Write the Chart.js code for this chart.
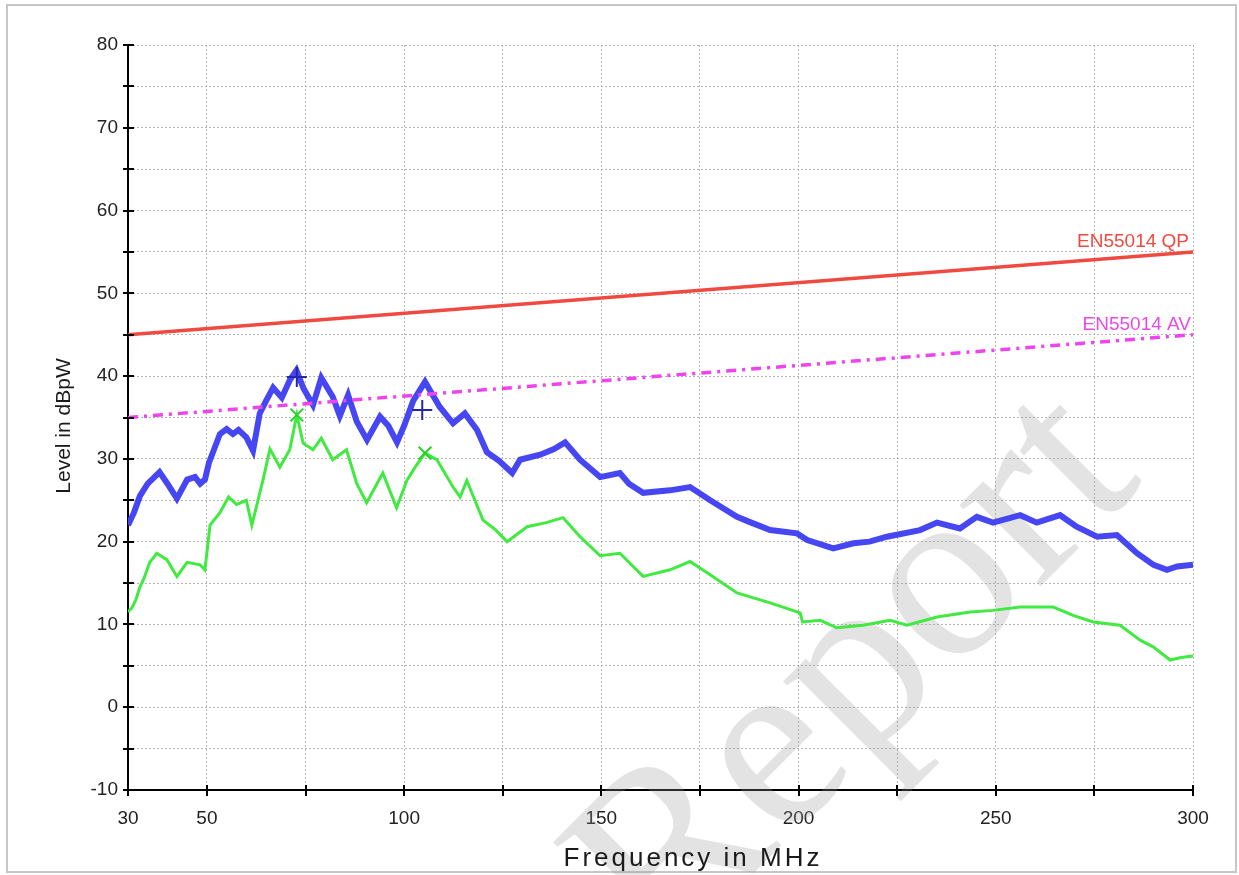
<!DOCTYPE html>
<html>
<head>
<meta charset="utf-8">
<script src="https://cdn.jsdelivr.net/npm/chart.js@4.4.1/dist/chart.umd.min.js"></script>
<style>
  html, body { margin: 0; padding: 0; background: #fff; }
  canvas { display: block; }
</style>
</head>
<body>
<canvas id="emiChart" width="1239" height="875"></canvas>
<script>
// axis ticks
const xTickValues = [30, 50, 75, 100, 125, 150, 175, 200, 225, 250, 275, 300];
const xLabelValues = [30, 50, 100, 150, 200, 250, 300];
const yMin = -10;
const yMax = 80;

// peak trace (blue), MHz / dBpW
const peakFreq = [30, 31.5, 33, 35, 38, 40, 42.4, 45, 47, 48.3, 49.5, 50.5, 53.3, 55, 56.6, 58, 60, 61.7, 63.4, 65,
  66.8, 69, 71, 72.7, 74.5, 76.9, 79, 81.9, 83.7, 85.8, 88, 90.6, 93.9, 96, 98.2, 100, 102.3, 105.3, 109, 112.4,
  115.4, 118.5, 121, 124, 127.4, 129.4, 134.5, 138, 140.8, 144.6, 149.7, 154.7, 157, 160.6, 167.4, 172.5, 177.6, 184.4, 188, 192.8,
  199.6, 202.2, 208.8, 213.9, 218, 222.4, 230.8, 235.1, 240.9, 245.2, 249.3, 256.2, 260.4, 266.3, 270.5, 275.7, 280.7, 285.8, 290, 293.4,
  296, 300];
const peakLevel = [22.0, 23.5, 25.5, 27.0, 28.4, 27.0, 25.2, 27.5, 27.8, 27.0, 27.5, 29.5, 33.0, 33.6, 33.0, 33.5, 32.6, 31.0, 35.5, 37.0,
  38.6, 37.4, 39.5, 40.7, 38.5, 36.5, 39.8, 37.5, 35.2, 37.7, 34.5, 32.3, 35.1, 34.0, 32.0, 34.0, 37.0, 39.3, 36.3, 34.3,
  35.5, 33.5, 30.8, 29.8, 28.3, 29.9, 30.5, 31.2, 32.0, 29.9, 27.8, 28.3, 27.0, 25.9, 26.2, 26.6, 25.0, 23.0, 22.3, 21.4,
  21.0, 20.2, 19.2, 19.8, 20.0, 20.6, 21.4, 22.3, 21.6, 23.0, 22.3, 23.2, 22.3, 23.2, 21.8, 20.6, 20.8, 18.6, 17.2, 16.6,
  17.0, 17.2];

// average trace (green)
const avgFreq = [30, 31, 32, 33, 34, 35.5, 37.3, 39.9, 42.4, 45, 48.3, 49.5, 50.8, 53.3, 55.5, 57.5, 60, 61.4, 64.2, 66,
  68.5, 71, 72.8, 74.4, 76.9, 79, 81.9, 85.4, 88, 90.5, 94.6, 98.1, 100.7, 102.8, 105.3, 108.3, 112.4, 114.2, 115.9, 120,
  123, 126.1, 131.2, 136, 140.3, 144.6, 149.7, 154.7, 160.6, 167.4, 172.5, 177.6, 184.4, 192.8, 200.4, 201, 205.5, 209.7, 216.4, 223.2,
  227.5, 235.1, 243.5, 249.3, 256.2, 264.6, 269.6, 274.7, 281.5, 286.6, 289.9, 294.2, 297, 300];
const avgLevel = [11.5, 12.0, 13.0, 14.5, 15.5, 17.5, 18.6, 17.8, 15.8, 17.5, 17.2, 16.6, 22.0, 23.5, 25.4, 24.5, 25.0, 22.0, 27.4, 31.2,
  29.0, 31.1, 35.3, 31.9, 31.1, 32.5, 29.9, 31.1, 27.0, 24.7, 28.3, 24.1, 27.4, 29.0, 30.7, 29.9, 26.6, 25.4, 27.4, 22.6,
  21.5, 20.0, 21.8, 22.3, 22.9, 20.6, 18.3, 18.6, 15.8, 16.6, 17.6, 16.0, 13.8, 12.6, 11.4, 10.3, 10.5, 9.6, 9.9, 10.5,
  9.9, 10.9, 11.5, 11.7, 12.1, 12.1, 11.1, 10.3, 9.9, 8.1, 7.3, 5.7, 6.0, 6.2];

// limit lines
const limitFreq = [30, 300];
const limitQP = [45, 55];
const limitAV = [35, 45];
const limitNames = ['EN55014 QP', 'EN55014 AV'];

// final measurement markers
const peakMarkFreq = [72.8, 104.6];
const peakMarkLevel = [39.9, 35.9];
const avgMarkFreq = [72.8, 105.3];
const avgMarkLevel = [35.3, 30.7];

const toPoints = (xs, ys) => xs.map((x, i) => ({ x: x, y: ys[i] }));

const FONT = '"Liberation Sans", Arial, sans-serif';

const decorPlugin = {
  id: 'decor',
  beforeDraw(chart) {
    const ctx = chart.ctx;
    ctx.save();
    ctx.fillStyle = '#fff';
    ctx.fillRect(0, 0, chart.width, chart.height);
    ctx.strokeStyle = '#c6c6c6';
    ctx.lineWidth = 2;
    ctx.strokeRect(7, 5, 1229, 867);
    ctx.restore();
  },
  beforeDatasetsDraw(chart) {
    // watermark
    const ctx = chart.ctx;
    ctx.save();
    ctx.translate(858, 676);
    ctx.rotate(-45 * Math.PI / 180);
    ctx.font = '250px "Liberation Serif", "DejaVu Serif", serif';
    ctx.fillStyle = 'rgba(150,150,150,0.27)';
    ctx.textAlign = 'center';
    ctx.textBaseline = 'middle';
    ctx.fillText('Report', 0, 0);
    ctx.restore();
  },
  afterDraw(chart) {
    const ctx = chart.ctx;
    const xs = chart.scales.x;
    const ys = chart.scales.y;
    const ca = chart.chartArea;
    ctx.save();
    // tick marks crossing the axes
    ctx.strokeStyle = '#000';
    ctx.lineWidth = 2;
    ctx.beginPath();
    for (let v = yMin; v <= yMax; v += 5) {
      const y = Math.round(ys.getPixelForValue(v));
      ctx.moveTo(ca.left - 5, y);
      ctx.lineTo(ca.left + 6, y);
    }
    xTickValues.forEach(v => {
      const x = Math.round(xs.getPixelForValue(v));
      ctx.moveTo(x, ca.bottom - 5);
      ctx.lineTo(x, ca.bottom + 6);
    });
    ctx.stroke();

    // limit labels
    ctx.font = '19px ' + FONT;
    ctx.textAlign = 'right';
    ctx.textBaseline = 'alphabetic';
    ctx.fillStyle = '#f04a40';
    ctx.fillText(limitNames[0], ca.right - 4, ys.getPixelForValue(limitQP[1]) - 5);
    ctx.fillStyle = '#e84ae8';
    ctx.fillText(limitNames[1], ca.right - 2, ys.getPixelForValue(limitAV[1]) - 5);

    // axis titles
    ctx.fillStyle = '#1a1a1a';
    ctx.font = '21px ' + FONT;
    ctx.textAlign = 'center';
    ctx.textBaseline = 'middle';
    ctx.save();
    ctx.translate(64, 426);
    ctx.rotate(-Math.PI / 2);
    ctx.fillText('Level in dBpW', 0, 0);
    ctx.restore();

    ctx.font = '26px ' + FONT;
    ctx.textBaseline = 'alphabetic';
    ctx.letterSpacing = '3px';
    ctx.fillText('Frequency in MHz', 693, 866);
    ctx.restore();
  }
};

const chart = new Chart(document.getElementById('emiChart'), {
  type: 'line',
  data: {
    datasets: [
      {
        label: 'Peak mark',
        data: toPoints(peakMarkFreq, peakMarkLevel),
        showLine: false,
        pointStyle: 'cross',
        pointRadius: 10,
        pointBorderWidth: 2,
        pointBorderColor: '#2626a8',
        order: 0
      },
      {
        label: 'Average mark',
        data: toPoints(avgMarkFreq, avgMarkLevel),
        showLine: false,
        pointStyle: 'crossRot',
        pointRadius: 9,
        pointBorderWidth: 2,
        pointBorderColor: '#28d228',
        order: 0
      },
      {
        label: limitNames[0],
        data: toPoints(limitFreq, limitQP),
        borderColor: '#f04a40',
        borderWidth: 3.5,
        pointRadius: 0,
        order: 1
      },
      {
        label: limitNames[1],
        data: toPoints(limitFreq, limitAV),
        borderColor: '#ee44ee',
        borderWidth: 3.5,
        borderDash: [10, 6, 3, 6],
        pointRadius: 0,
        order: 1
      },
      {
        label: 'Average',
        data: toPoints(avgFreq, avgLevel),
        borderColor: '#40ea40',
        borderWidth: 3,
        pointRadius: 0,
        tension: 0,
        order: 2
      },
      {
        label: 'Peak',
        data: toPoints(peakFreq, peakLevel),
        borderColor: '#4646f2',
        borderWidth: 6,
        pointRadius: 0,
        tension: 0,
        order: 3
      }
    ]
  },
  options: {
    responsive: false,
    animation: false,
    events: [],
    layout: { padding: { left: 0, top: 45, right: 46, bottom: 0 } },
    plugins: {
      legend: { display: false },
      tooltip: { enabled: false }
    },
    scales: {
      x: {
        type: 'linear',
        min: 30,
        max: 300,
        afterFit: s => { s.height = 85; },
        afterBuildTicks: s => { s.ticks = xTickValues.map(v => ({ value: v })); },
        grid: { color: '#b4b4b4', lineWidth: 1, drawTicks: false },
        border: { display: true, color: '#000', width: 2, dash: [2, 2] },
        ticks: {
          autoSkip: false,
          maxRotation: 0,
          padding: 17,
          color: '#222',
          font: { family: FONT, size: 19 },
          callback: v => xLabelValues.includes(v) ? String(v) : ''
        }
      },
      y: {
        min: yMin,
        max: yMax,
        afterFit: s => { s.width = 128; },
        grid: { color: '#b4b4b4', lineWidth: 1, drawTicks: false },
        border: { display: true, color: '#000', width: 2, dash: [2, 2] },
        ticks: {
          stepSize: 5,
          padding: 10,
          color: '#222',
          font: { family: FONT, size: 19 },
          callback: v => v % 10 === 0 ? String(v) : ''
        }
      }
    }
  },
  plugins: [decorPlugin]
});
</script>
</body>
</html>
